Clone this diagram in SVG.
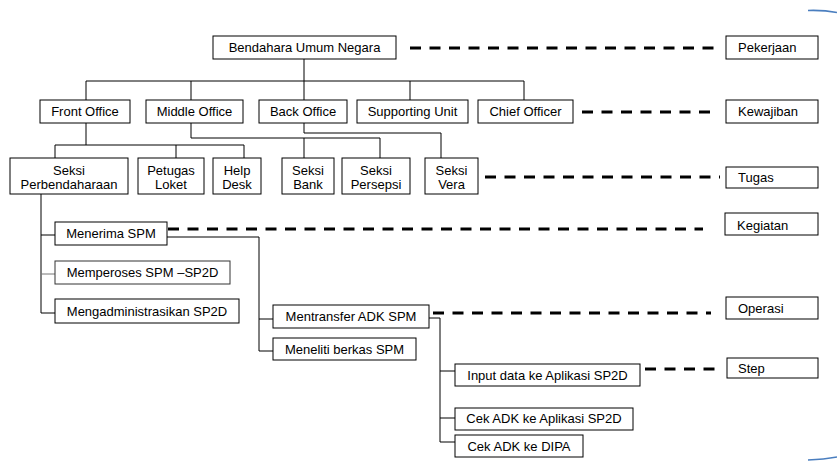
<svg xmlns="http://www.w3.org/2000/svg" width="837" height="461" viewBox="0 0 837 461">
<style>
.b{fill:#fff;stroke:#000;stroke-width:1}
.g{fill:#fff;stroke:#333;stroke-width:1}
text{font-family:"Liberation Sans",Arial,sans-serif;font-size:13px;fill:#000}
.c{text-anchor:middle}
.ln{fill:none;stroke:#000;stroke-width:1}
.lg{fill:none;stroke:#777;stroke-width:1}
.d{fill:none;stroke:#000;stroke-width:3;stroke-dasharray:11 8.5}
.blue{fill:none;stroke:#4a7ebf;stroke-width:1.6}
</style>
<rect width="837" height="461" fill="#fff"/>
<g id="connectors">
<path class="ln" d="M304 59V81M86 81H524M86 81V100M191 81V100M304 81V100M410 81V100M524 81V100"/>
<path class="ln" d="M86 123V145M55 145H244M55 145V158M176 145V158M244 145V158"/>
<path class="ln" d="M191 123V138H380M304 138V158M380 138V158"/>
<path class="ln" d="M304 123V133H441V158"/>
<path class="ln" d="M41 194V313H55M41 235H55"/>
<path class="lg" d="M41 274H55"/>
<path class="ln" d="M167 237H259V351H273M259 319H273"/>
<path class="ln" d="M429 318H440V442H455M440 371H455M440 418H455"/>
<path class="d" d="M410 48H715"/>
<path class="d" d="M582 112H715"/>
<path class="d" d="M485 177H720"/>
<path class="d" d="M168 229H703"/>
<path class="d" d="M433 313H711"/>
<path class="d" d="M645 369H720"/>
</g>
<g id="n-bun"><rect class="b" x="213" y="36" width="183" height="23"/><text class="c" x="304.5" y="52">Bendahara Umum Negara</text></g>
<g id="n-front"><rect class="b" x="40" y="100" width="90" height="23"/><text class="c" x="85" y="116">Front Office</text></g>
<g id="n-middle"><rect class="b" x="146" y="100" width="97" height="23"/><text class="c" x="194.5" y="116">Middle Office</text></g>
<g id="n-back"><rect class="b" x="259" y="100" width="88" height="23"/><text class="c" x="303" y="116">Back Office</text></g>
<g id="n-support"><rect class="b" x="357" y="100" width="111" height="23"/><text class="c" x="412.5" y="116">Supporting Unit</text></g>
<g id="n-chief"><rect class="b" x="478" y="100" width="95" height="23"/><text class="c" x="525.5" y="116">Chief Officer</text></g>
<g id="n-pekerjaan"><rect class="b" x="726" y="36" width="92" height="23"/><text x="738" y="52">Pekerjaan</text></g>
<g id="n-kewajiban"><rect class="b" x="726" y="100" width="92" height="23"/><text x="738" y="116">Kewajiban</text></g>
<g id="n-perbendaharaan"><rect class="b" x="10" y="158" width="118" height="36"/><text class="c" x="69" y="175">Seksi</text><text class="c" x="69" y="188.5">Perbendaharaan</text></g>
<g id="n-loket"><rect class="b" x="138" y="158" width="66" height="36"/><text class="c" x="171" y="175">Petugas</text><text class="c" x="171" y="188.5">Loket</text></g>
<g id="n-help"><rect class="b" x="213" y="158" width="48" height="36"/><text class="c" x="237" y="175">Help</text><text class="c" x="237" y="188.5">Desk</text></g>
<g id="n-bank"><rect class="b" x="282" y="158" width="52" height="36"/><text class="c" x="308" y="175">Seksi</text><text class="c" x="308" y="188.5">Bank</text></g>
<g id="n-persepsi"><rect class="b" x="342" y="158" width="68" height="36"/><text class="c" x="376" y="175">Seksi</text><text class="c" x="376" y="188.5">Persepsi</text></g>
<g id="n-vera"><rect class="b" x="425" y="158" width="53" height="36"/><text class="c" x="451.5" y="175">Seksi</text><text class="c" x="451.5" y="188.5">Vera</text></g>
<g id="n-tugas"><rect class="b" x="726" y="167" width="92" height="21"/><text x="738" y="182">Tugas</text></g>
<g id="n-menerima"><rect class="b" x="55" y="222" width="112" height="23"/><text class="c" x="111" y="238">Menerima SPM</text></g>
<g id="n-memperoses"><rect class="g" x="55" y="261" width="175" height="23"/><text class="c" x="142.5" y="277">Memperoses SPM –SP2D</text></g>
<g id="n-mengadm"><rect class="b" x="55" y="299" width="184" height="24"/><text class="c" x="147" y="315.5">Mengadministrasikan SP2D</text></g>
<g id="n-kegiatan"><rect class="b" x="725" y="213" width="93" height="22"/><text x="737" y="229.5">Kegiatan</text></g>
<g id="n-mentransfer"><rect class="b" x="273" y="305" width="156" height="23"/><text class="c" x="351" y="321">Mentransfer ADK SPM</text></g>
<g id="n-meneliti"><rect class="b" x="273" y="338" width="143" height="22"/><text class="c" x="344.5" y="353.5">Meneliti berkas SPM</text></g>
<g id="n-operasi"><rect class="b" x="726" y="297" width="92" height="22"/><text x="738" y="312.5">Operasi</text></g>
<g id="n-input"><rect class="b" x="455" y="364" width="185" height="22"/><text class="c" x="547.5" y="379.5">Input data ke Aplikasi SP2D</text></g>
<g id="n-step"><rect class="b" x="727" y="358" width="91" height="20"/><text x="738" y="372.5">Step</text></g>
<g id="n-cekapl"><rect class="b" x="455" y="408" width="178" height="22"/><text class="c" x="544" y="423">Cek ADK ke Aplikasi SP2D</text></g>
<g id="n-cekdipa"><rect class="b" x="455" y="435" width="128" height="22"/><text class="c" x="519" y="451">Cek ADK ke DIPA</text></g>
<path class="blue" d="M808 10.5Q824 10 837 12.5"/>
<path class="blue" d="M808 460Q824 459.5 837 457"/>
</svg>
